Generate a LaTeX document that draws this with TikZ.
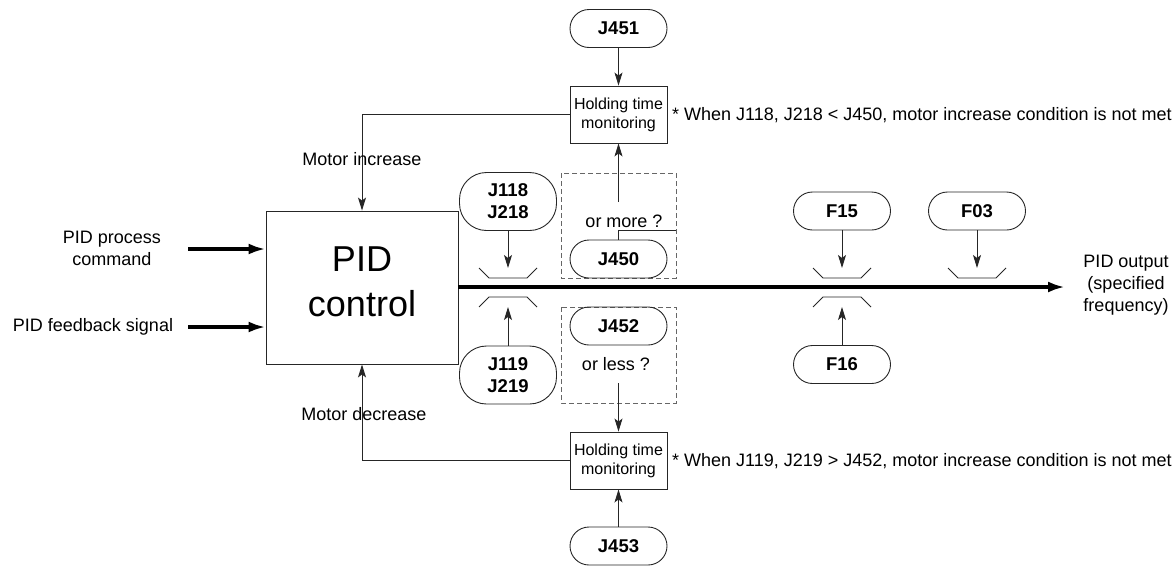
\documentclass[tikz,border=0pt]{standalone}
\usepackage{fontspec}
\setmainfont{Liberation Sans}
\usetikzlibrary{arrows.meta}
\begin{document}
\begin{tikzpicture}[x=1pt,y=-1pt,
  ln/.style={draw=black!85, line width=0.9pt},
  tarrow/.style={ln, -{Stealth[length=13pt,width=8pt,inset=3pt]}},
  bigarrow/.style={draw=black, line width=3.3pt, -{Latex[length=17pt,width=11pt]}},
  stad/.style={draw=black!85, line width=0.9pt, rounded corners=19pt, minimum width=97pt, minimum height=38pt, inner sep=0pt, font=\fontsize{18.5}{22}\selectfont\bfseries, align=center},
  stadtwo/.style={stad, minimum height=58pt, rounded corners=27pt},
  hold/.style={draw=black!85, line width=0.9pt, minimum width=97pt, minimum height=57pt, inner sep=0pt, align=center, font=\fontsize{16}{19}\selectfont},
  lbl/.style={font=\fontsize{18}{21.5}\selectfont, align=center, inner sep=0pt},
  dbox/.style={draw=black!60, line width=0.9pt, dash pattern=on 5pt off 3pt},
  brk/.style={draw=black!85, line width=0.9pt},
]
\useasboundingbox (0,0) rectangle (1174,565);

% main block
\node[draw=black!85, line width=0.9pt, minimum width=192pt, minimum height=153pt, inner sep=0pt] (pid) at (362,287.5) {};
\node[font=\fontsize{36}{45}\selectfont, align=center, inner sep=0pt] (pidtext) at (362,281.6) {PID\\control};

% inputs
\node[lbl] (cmd) at (112,248.5) {PID process\\command};
\node[lbl] (fb) at (93,327) {PID feedback signal};
\coordinate (cmdS) at (188,249);
\coordinate (fbS) at (188,327);
\draw[bigarrow] (cmdS) -- (pid.west |- cmdS);
\draw[bigarrow] (fbS) -- (pid.west |- fbS);

% output
\coordinate (outE) at (1065,287);
\draw[bigarrow, line width=3.6pt] (pid.east |- outE) -- (outE);
\node[lbl, font=\fontsize{18}{22}\selectfont] (outlbl) at (1126,285) {PID output\\(specified\\frequency)};

% holding time monitors
\node[hold] (hold1) at (618.5,114.5) {Holding time\\monitoring};
\node[hold] (hold2) at (618.5,460.5) {Holding time\\monitoring};
\node[stad] (J451) at (618.5,28.5) {J451};
\node[stad] (J453) at (618.5,546) {J453};
\draw[tarrow] (J451) -- (hold1);
\draw[tarrow] (J453) -- (hold2);

\node[lbl, anchor=west] (note1) at (672,115) {* When J118, J218 < J450, motor increase condition is not met};
\node[lbl, anchor=west] (note2) at (672,461) {* When J119, J219 > J452, motor increase condition is not met};

% motor increase / decrease
\draw[tarrow] (hold1.west) -| (pid.north);
\draw[tarrow] (hold2.west) -| (pid.south);
\node[lbl] (minc) at (362,159) {Motor increase};
\node[lbl] (mdec) at (364,414) {Motor decrease};

% dashed comparison boxes
\draw[dbox] (561,173) rectangle (676,278);
\draw[dbox] (561,307) rectangle (676,403);
\node[stad] (J450) at (618.5,259) {J450};
\node[stad] (J452) at (618.5,326) {J452};
\coordinate (jn) at (618.5,230);
\coordinate (jr) at (676,230);
\coordinate (mtop) at (618.5,202);
\draw[ln] (J450.north) -- (jn) -- (jr);
\draw[tarrow] (mtop) -- (hold1.south);
\node[lbl] (more) at (624,221) {or more ?};
\node[lbl] (less) at (616,364) {or less ?};
\coordinate (lbot) at (618.5,383);
\draw[tarrow] (lbot) -- (hold2.north);

% limiters
\node[stadtwo] (J118) at (508,201.5) {J118\\J218};
\node[stadtwo] (J119) at (508,375) {J119\\J219};
\node[stad] (F15) at (842,211) {F15};
\node[stad] (F03) at (977,211) {F03};
\node[stad] (F16) at (842,364.5) {F16};

\foreach \x in {508,842,977}{
  \draw[brk] (\x-29,268) -- (\x-19,278) -- (\x+19,278) -- (\x+29,268);
}
\foreach \x in {508,842}{
  \draw[brk] (\x-29,307) -- (\x-19,297) -- (\x+19,297) -- (\x+29,307);
}
\coordinate (bJ118) at (508,268);
\coordinate (bF15) at (842,268);
\coordinate (bF03) at (977,268);
\coordinate (bJ119) at (508,307);
\coordinate (bF16) at (842,307);
\draw[tarrow] (J118) -- (bJ118);
\draw[tarrow] (F15) -- (bF15);
\draw[tarrow] (F03) -- (bF03);
\draw[tarrow] (J119) -- (bJ119);
\draw[tarrow] (F16) -- (bF16);
\end{tikzpicture}
\end{document}
